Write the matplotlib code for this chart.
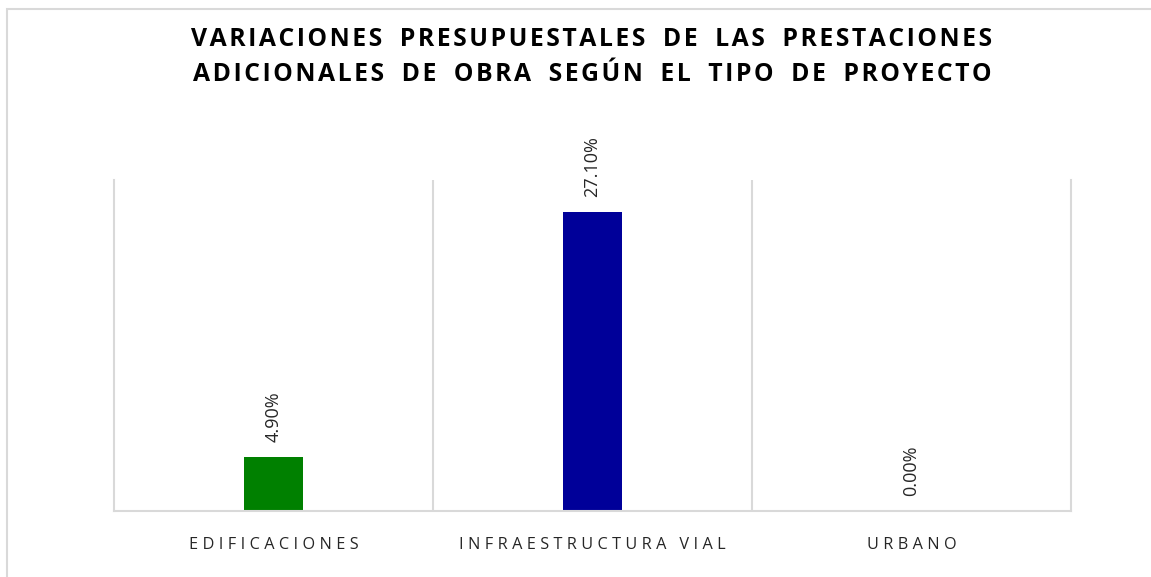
import matplotlib
matplotlib.use('Agg')
import matplotlib.pyplot as plt
from matplotlib.patches import Rectangle

categories = ["EDIFICACIONES", "INFRAESTRUCTURA VIAL", "URBANO"]
values = [4.90, 27.10, 0.00]
colors = ["#008000", "#000099", "#000099"]
title_lines = ["VARIACIONES PRESUPUESTALES DE LAS PRESTACIONES",
               "ADICIONALES DE OBRA SEGÚN EL TIPO DE PROYECTO"]

grid_color = "#d9d9d9"


def spaced(s, gap=" ", word_gap=" "):
    # letter spacing like the original labels
    words = s.split(" ")
    return word_gap.join(gap.join(w) for w in words)


plt.rcParams['font.family'] = ['Open Sans', 'DejaVu Sans']

fig = plt.figure(figsize=(11.51, 5.77), dpi=100)
fig.patches.append(Rectangle((7 / 1151, -0.1), 1.2, (577 - 9) / 577 + 0.1,
                             transform=fig.transFigure, fill=False,
                             edgecolor=grid_color, linewidth=1.5, clip_on=False))

ax = fig.add_axes([114 / 1151, 66 / 577, 957 / 1151, 331 / 577])
x = list(range(len(categories)))
bars = ax.bar(x, values, width=0.185, color=colors)

for xi, v in zip(x, values):
    ax.annotate(f"{v:.2f}%", xy=(xi, v), xytext=(0, 11), textcoords="offset points",
                rotation=90, ha="center", va="bottom", fontsize=13, color="#262626")

ax.set_xlim(-0.5, 2.5)
ax.set_ylim(0, 30)
ax.set_yticks([])
ax.set_xticks(x)
ax.set_xticklabels([spaced(c, gap="\u2009\u200a", word_gap="\u2009\u200a \u2009\u200a") for c in categories],
                   fontsize=11.7, color="#262626")
ax.tick_params(axis="x", length=0, pad=19)
for xb in [0.5, 1.5]:
    ax.axvline(xb, color=grid_color, linewidth=1.5, zorder=0)
for side in ["left", "right", "bottom"]:
    ax.spines[side].set_color(grid_color)
    ax.spines[side].set_linewidth(1.5)
ax.spines["top"].set_visible(False)

# title is centred over the plot area, not the whole figure
title = "\n".join(spaced(t, gap="\u200a", word_gap="\u200a" * 7) for t in title_lines)
fig.text(592 / 1151, 0.953, title, ha="center", va="top",
         fontsize=17.8, fontweight="bold", color="#000000", linespacing=1.5)

fig.savefig("out.png", dpi=100)
